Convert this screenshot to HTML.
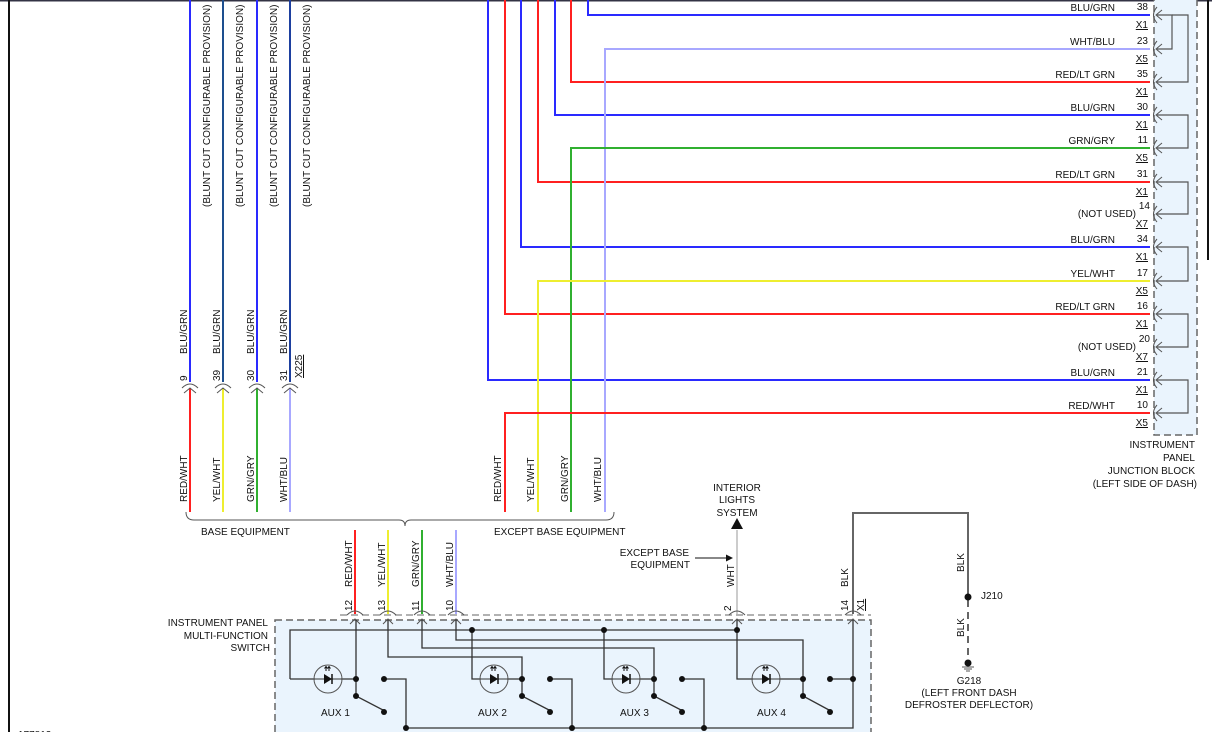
<!DOCTYPE html>
<html><head><meta charset="utf-8"><style>
html,body{margin:0;padding:0;background:#fff;}
svg{display:block;}
text{font-family:"Liberation Sans",sans-serif;font-size:10px;fill:#111;}
</style></head><body>
<svg width="1212" height="732" viewBox="0 0 1212 732" xmlns="http://www.w3.org/2000/svg">
<rect x="0" y="0" width="1212" height="732" fill="#fff"/>
<line x1="0" y1="0.5" x2="1212" y2="0.5" stroke="#334" stroke-width="2"/>
<line x1="9" y1="0" x2="9" y2="732" stroke="#111" stroke-width="2"/>
<line x1="1208" y1="0" x2="1208" y2="260" stroke="#111" stroke-width="2"/>

<!-- junction block box -->
<rect x="1154" y="-2" width="43" height="437" fill="#eaf4fd" stroke="#666" stroke-width="1.5" stroke-dasharray="7,4"/>

<!-- left upper verticals -->
<g stroke-width="2" fill="none">
<line x1="190" y1="0" x2="190" y2="382" stroke="#2a2aff"/>
<line x1="223" y1="0" x2="223" y2="382" stroke="#1d4f8f"/>
<line x1="257" y1="0" x2="257" y2="382" stroke="#2a2aff"/>
<line x1="290" y1="0" x2="290" y2="382" stroke="#1d3f9f"/>
<line x1="190" y1="388" x2="190" y2="512" stroke="#ff2020"/>
<line x1="223" y1="388" x2="223" y2="512" stroke="#eeee30"/>
<line x1="257" y1="388" x2="257" y2="512" stroke="#30b030"/>
<line x1="290" y1="388" x2="290" y2="512" stroke="#a8a8ff"/>
</g>
<g stroke="#555" stroke-width="1" fill="none">
<path d="M182,388 q8,-8 16,0 M215,388 q8,-8 16,0 M249,388 q8,-8 16,0 M282,388 q8,-8 16,0"/>
<path d="M184,393 l6,-5 l6,5 M217,393 l6,-5 l6,5 M251,393 l6,-5 l6,5 M284,393 l6,-5 l6,5"/>
</g>
<g>
<text transform="translate(210,207) rotate(-90)">(BLUNT CUT CONFIGURABLE PROVISION)</text>
<text transform="translate(243,207) rotate(-90)">(BLUNT CUT CONFIGURABLE PROVISION)</text>
<text transform="translate(277,207) rotate(-90)">(BLUNT CUT CONFIGURABLE PROVISION)</text>
<text transform="translate(310,207) rotate(-90)">(BLUNT CUT CONFIGURABLE PROVISION)</text>
<text transform="translate(187,354) rotate(-90)">BLU/GRN</text>
<text transform="translate(220,354) rotate(-90)">BLU/GRN</text>
<text transform="translate(254,354) rotate(-90)">BLU/GRN</text>
<text transform="translate(287,354) rotate(-90)">BLU/GRN</text>
<text transform="translate(187,381) rotate(-90)">9</text>
<text transform="translate(220,381) rotate(-90)">39</text>
<text transform="translate(254,381) rotate(-90)">30</text>
<text transform="translate(287,381) rotate(-90)">31</text>
<text transform="translate(302,378) rotate(-90)" text-decoration="underline">X225</text>
<text transform="translate(187,502) rotate(-90)">RED/WHT</text>
<text transform="translate(220,502) rotate(-90)">YEL/WHT</text>
<text transform="translate(254,502) rotate(-90)">GRN/GRY</text>
<text transform="translate(287,502) rotate(-90)">WHT/BLU</text>
<text transform="translate(501,502) rotate(-90)">RED/WHT</text>
<text transform="translate(534,502) rotate(-90)">YEL/WHT</text>
<text transform="translate(568,502) rotate(-90)">GRN/GRY</text>
<text transform="translate(601,502) rotate(-90)">WHT/BLU</text>
</g>

<!-- right wires -->
<g stroke-width="2" fill="none">
<path d="M488,0 V380 H1150" stroke="#2a2aff"/>
<path d="M505,0 V314 H1150" stroke="#ff2020"/>
<path d="M521,0 V247 H1150" stroke="#2a2aff"/>
<path d="M538,0 V182 H1150" stroke="#ff2020"/>
<path d="M555,0 V115 H1150" stroke="#2a2aff"/>
<path d="M571,0 V82 H1150" stroke="#ff2020"/>
<path d="M588,0 V15 H1150" stroke="#2a2aff"/>
<path d="M605,512 V49 H1150" stroke="#a8a8ff"/>
<path d="M571,512 V148 H1150" stroke="#30b030"/>
<path d="M538,512 V281 H1150" stroke="#eeee30"/>
<path d="M505,512 V413 H1150" stroke="#ff2020"/>
</g>
<!-- junction pins -->
<g stroke="#555" stroke-width="1" fill="none">
<path d="M1157,7 q-7,8 0,16 M1162,10 l-6,5 l6,5"/>
<path d="M1157,41 q-7,8 0,16 M1162,44 l-6,5 l6,5"/>
<path d="M1157,74 q-7,8 0,16 M1162,77 l-6,5 l6,5"/>
<path d="M1157,107 q-7,8 0,16 M1162,110 l-6,5 l6,5"/>
<path d="M1157,140 q-7,8 0,16 M1162,143 l-6,5 l6,5"/>
<path d="M1157,174 q-7,8 0,16 M1162,177 l-6,5 l6,5"/>
<path d="M1157,206 q-7,8 0,16 M1162,209 l-6,5 l6,5"/>
<path d="M1157,239 q-7,8 0,16 M1162,242 l-6,5 l6,5"/>
<path d="M1157,273 q-7,8 0,16 M1162,276 l-6,5 l6,5"/>
<path d="M1157,306 q-7,8 0,16 M1162,309 l-6,5 l6,5"/>
<path d="M1157,339 q-7,8 0,16 M1162,342 l-6,5 l6,5"/>
<path d="M1157,372 q-7,8 0,16 M1162,375 l-6,5 l6,5"/>
<path d="M1157,405 q-7,8 0,16 M1162,408 l-6,5 l6,5"/>
</g>
<g stroke="#555" stroke-width="1.2" fill="none">
<path d="M1157,15 H1172 V49 H1157"/>
<path d="M1172,15 H1188 V82 H1157"/>
<path d="M1157,115 H1188 V148 H1157"/>
<path d="M1157,182 H1188 V214 H1157"/>
<path d="M1157,247 H1188 V281 H1157"/>
<path d="M1157,314 H1188 V347 H1157"/>
<path d="M1157,380 H1188 V413 H1157"/>
</g>
<g text-anchor="end">
<text x="1115" y="11">BLU/GRN</text><text x="1148" y="10">38</text><text x="1148" y="28" text-decoration="underline">X1</text>
<text x="1115" y="45">WHT/BLU</text><text x="1148" y="44">23</text><text x="1148" y="62" text-decoration="underline">X5</text>
<text x="1115" y="78">RED/LT GRN</text><text x="1148" y="77">35</text><text x="1148" y="95" text-decoration="underline">X1</text>
<text x="1115" y="111">BLU/GRN</text><text x="1148" y="110">30</text><text x="1148" y="128" text-decoration="underline">X1</text>
<text x="1115" y="144">GRN/GRY</text><text x="1148" y="143">11</text><text x="1148" y="161" text-decoration="underline">X5</text>
<text x="1115" y="178">RED/LT GRN</text><text x="1148" y="177">31</text><text x="1148" y="195" text-decoration="underline">X1</text>
<text x="1136" y="217">(NOT USED)</text><text x="1150" y="209">14</text><text x="1148" y="227" text-decoration="underline">X7</text>
<text x="1115" y="243">BLU/GRN</text><text x="1148" y="242">34</text><text x="1148" y="260" text-decoration="underline">X1</text>
<text x="1115" y="277">YEL/WHT</text><text x="1148" y="276">17</text><text x="1148" y="294" text-decoration="underline">X5</text>
<text x="1115" y="310">RED/LT GRN</text><text x="1148" y="309">16</text><text x="1148" y="327" text-decoration="underline">X1</text>
<text x="1136" y="350">(NOT USED)</text><text x="1150" y="342">20</text><text x="1148" y="360" text-decoration="underline">X7</text>
<text x="1115" y="376">BLU/GRN</text><text x="1148" y="375">21</text><text x="1148" y="393" text-decoration="underline">X1</text>
<text x="1115" y="409">RED/WHT</text><text x="1148" y="408">10</text><text x="1148" y="426" text-decoration="underline">X5</text>
<text x="1195" y="448">INSTRUMENT</text>
<text x="1195" y="461">PANEL</text>
<text x="1195" y="474">JUNCTION BLOCK</text>
<text x="1197" y="487">(LEFT SIDE OF DASH)</text>
<text x="268" y="626">INSTRUMENT PANEL</text>
<text x="268" y="639">MULTI-FUNCTION</text>
<text x="270" y="651">SWITCH</text>
</g>

<!-- bracket -->
<path d="M186,512 q0,8 8,8 H399 q6,0 6,6 q0,-6 6,-6 H606 q8,0 8,-8" stroke="#555" stroke-width="1" fill="none"/>
<text x="201" y="535">BASE EQUIPMENT</text>
<text x="494" y="535">EXCEPT BASE EQUIPMENT</text>

<!-- lower wires into switch -->
<g stroke-width="2" fill="none">
<line x1="355" y1="530" x2="355" y2="614" stroke="#ff2020"/>
<line x1="388" y1="530" x2="388" y2="614" stroke="#eeee30"/>
<line x1="422" y1="530" x2="422" y2="614" stroke="#30b030"/>
<line x1="456" y1="530" x2="456" y2="614" stroke="#a8a8ff"/>
<line x1="737" y1="530" x2="737" y2="614" stroke="#ccc"/>
</g>
<path d="M737,518 l-6,11 h12 z" fill="#111"/>
<g text-anchor="middle">
<text x="737" y="491">INTERIOR</text>
<text x="737" y="503">LIGHTS</text>
<text x="737" y="516">SYSTEM</text>
</g>
<g text-anchor="end">
<text x="689" y="556">EXCEPT BASE</text>
<text x="690" y="568">EQUIPMENT</text>
</g>
<line x1="695" y1="558" x2="728" y2="558" stroke="#111"/>
<path d="M733,558 l-7,-3.5 v7 z" fill="#111"/>
<text transform="translate(352,587) rotate(-90)">RED/WHT</text>
<text transform="translate(385,587) rotate(-90)">YEL/WHT</text>
<text transform="translate(419,587) rotate(-90)">GRN/GRY</text>
<text transform="translate(453,587) rotate(-90)">WHT/BLU</text>
<text transform="translate(734,587) rotate(-90)">WHT</text>
<text transform="translate(848,587) rotate(-90)">BLK</text>
<text transform="translate(352,611) rotate(-90)">12</text>
<text transform="translate(385,611) rotate(-90)">13</text>
<text transform="translate(419,611) rotate(-90)">11</text>
<text transform="translate(453,611) rotate(-90)">10</text>
<text transform="translate(731,611) rotate(-90)">2</text>
<text transform="translate(848,611) rotate(-90)">14</text>
<text transform="translate(864,611) rotate(-90)" text-decoration="underline">X1</text>

<!-- BLK wire / ground -->
<path d="M853,614 V513 H968 V597" stroke="#666" stroke-width="2" fill="none"/>
<line x1="968" y1="600" x2="968" y2="662" stroke="#666" stroke-width="2" stroke-dasharray="7,5"/>
<circle cx="968" cy="597" r="3.5" fill="#111"/>
<circle cx="968" cy="663" r="3.5" fill="#111"/>
<path d="M962,667 h12 M964,669 h8 M966,671 h4" stroke="#555" stroke-width="1"/>
<text transform="translate(964,572) rotate(-90)">BLK</text>
<text transform="translate(964,637) rotate(-90)">BLK</text>
<text x="981" y="599">J210</text>
<g text-anchor="middle">
<text x="969" y="684">G218</text>
<text x="969" y="696">(LEFT FRONT DASH</text>
<text x="969" y="708">DEFROSTER DEFLECTOR)</text>
</g>

<!-- switch box -->
<rect x="275" y="620" width="596" height="120" fill="#eaf4fd" stroke="#666" stroke-width="1.5" stroke-dasharray="7,4"/>
<line x1="340" y1="615" x2="871" y2="615" stroke="#999" stroke-width="1.5" stroke-dasharray="7,4"/>
<g stroke="#555" stroke-width="1" fill="none">
<path d="M347,615 q8,-8 16,0 M380,615 q8,-8 16,0 M414,615 q8,-8 16,0 M448,615 q8,-8 16,0 M729,615 q8,-8 16,0 M845,615 q8,-8 16,0"/>
<path d="M350,624 l5,-5 l5,5 M383,624 l5,-5 l5,5 M417,624 l5,-5 l5,5 M451,624 l5,-5 l5,5 M732,624 l5,-5 l5,5 M848,624 l5,-5 l5,5"/>
</g>
<g stroke="#333" stroke-width="1.3" fill="none">
<path d="M356,620 V696 L383,710"/>
<path d="M290,679 V630 H737"/>
<path d="M290,679 H356"/>
<path d="M388,620 V657 H522 V696 L549,710"/>
<path d="M422,620 V648 H654 V696 L681,710"/>
<path d="M456,620 V640 H803 V696 L829,710"/>
<path d="M472,630 V679 H522"/>
<path d="M604,630 V679 H654"/>
<path d="M737,620 V679 H803"/>
<path d="M384,679 H406 V728 H853 V620"/>
<path d="M550,679 H572 V728"/>
<path d="M682,679 H704 V728"/>
<path d="M830,679 H853"/>
</g>
<g fill="#111">
<circle cx="356" cy="679" r="3"/><circle cx="356" cy="696" r="3"/><circle cx="384" cy="679" r="3"/><circle cx="384" cy="712" r="3"/>
<circle cx="522" cy="679" r="3"/><circle cx="522" cy="696" r="3"/><circle cx="550" cy="679" r="3"/><circle cx="550" cy="712" r="3"/>
<circle cx="654" cy="679" r="3"/><circle cx="654" cy="696" r="3"/><circle cx="682" cy="679" r="3"/><circle cx="682" cy="712" r="3"/>
<circle cx="803" cy="679" r="3"/><circle cx="803" cy="696" r="3"/><circle cx="830" cy="679" r="3"/><circle cx="830" cy="712" r="3"/>
<circle cx="472" cy="630" r="3"/><circle cx="604" cy="630" r="3"/><circle cx="737" cy="630" r="3"/><circle cx="853" cy="679" r="3"/>
<circle cx="406" cy="728" r="3"/><circle cx="572" cy="728" r="3"/><circle cx="704" cy="728" r="3"/>
</g>
<!-- LEDs -->
<g>
<g transform="translate(328,679)"><circle r="14" fill="#eaf4fd" stroke="#555"/><line x1="-14" y1="0" x2="14" y2="0" stroke="#333"/><path d="M-4,-5 L4,0 L-4,5 Z" fill="#111"/><line x1="4" y1="-5" x2="4" y2="5" stroke="#111" stroke-width="1.5"/><path d="M-2,-8 v-4 M1,-8 v-4 M-3.5,-10.5 l1.5,-2 l1.5,2 M-0.5,-10.5 l1.5,-2 l1.5,2" stroke="#111" fill="none"/></g>
<g transform="translate(494,679)"><circle r="14" fill="#eaf4fd" stroke="#555"/><line x1="-14" y1="0" x2="14" y2="0" stroke="#333"/><path d="M-4,-5 L4,0 L-4,5 Z" fill="#111"/><line x1="4" y1="-5" x2="4" y2="5" stroke="#111" stroke-width="1.5"/><path d="M-2,-8 v-4 M1,-8 v-4 M-3.5,-10.5 l1.5,-2 l1.5,2 M-0.5,-10.5 l1.5,-2 l1.5,2" stroke="#111" fill="none"/></g>
<g transform="translate(626,679)"><circle r="14" fill="#eaf4fd" stroke="#555"/><line x1="-14" y1="0" x2="14" y2="0" stroke="#333"/><path d="M-4,-5 L4,0 L-4,5 Z" fill="#111"/><line x1="4" y1="-5" x2="4" y2="5" stroke="#111" stroke-width="1.5"/><path d="M-2,-8 v-4 M1,-8 v-4 M-3.5,-10.5 l1.5,-2 l1.5,2 M-0.5,-10.5 l1.5,-2 l1.5,2" stroke="#111" fill="none"/></g>
<g transform="translate(766,679)"><circle r="14" fill="#eaf4fd" stroke="#555"/><line x1="-14" y1="0" x2="14" y2="0" stroke="#333"/><path d="M-4,-5 L4,0 L-4,5 Z" fill="#111"/><line x1="4" y1="-5" x2="4" y2="5" stroke="#111" stroke-width="1.5"/><path d="M-2,-8 v-4 M1,-8 v-4 M-3.5,-10.5 l1.5,-2 l1.5,2 M-0.5,-10.5 l1.5,-2 l1.5,2" stroke="#111" fill="none"/></g>
</g>
<text x="321" y="716">AUX 1</text>
<text x="478" y="716">AUX 2</text>
<text x="620" y="716">AUX 3</text>
<text x="757" y="716">AUX 4</text>
<text x="18" y="738">177813</text>
</svg>
</body></html>
